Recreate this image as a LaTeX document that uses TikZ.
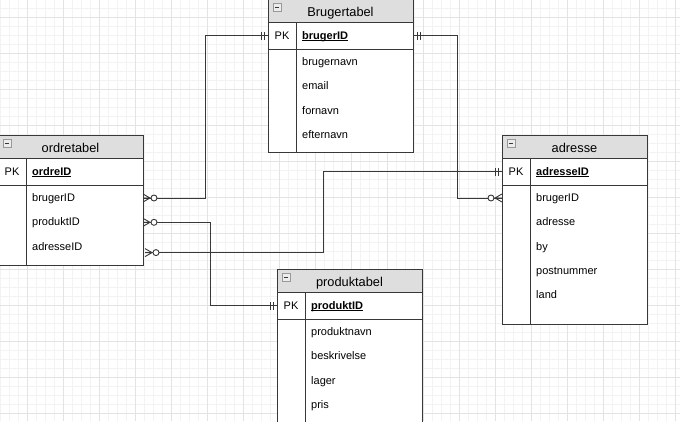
\documentclass[tikz,border=0pt]{standalone}
\usepackage{fontspec}
\setmainfont{Liberation Sans}
\definecolor{gridminor}{HTML}{F3F3F3}
\definecolor{gridmajor}{HTML}{E3E3E3}
\definecolor{headfill}{HTML}{DEDEDE}
\definecolor{edge}{HTML}{383838}
\newcommand{\headfont}{\fontsize{12.8}{14}\selectfont}
\newcommand{\fieldfont}{\fontsize{11}{13}\selectfont}
\newcommand{\keyname}[1]{\underline{\smash{\textbf{#1}}}}
\tikzstyle{tableline}=[draw=edge, line width=0.9pt]
\tikzstyle{tablebox}=[tableline, fill=white, inner sep=0pt, outer sep=0pt, minimum width=145pt, anchor=north west]
\tikzstyle{tablehead}=[tablebox, fill=headfill, minimum height=23pt, font=\headfont, text height=12pt, text depth=0pt]
\tikzstyle{pkrow}=[tablebox, fill=none, minimum height=27pt]
\tikzstyle{field}=[inner sep=0pt, anchor=west, font=\fieldfont, text height=8pt, text depth=1pt]
\tikzstyle{pktext}=[field, anchor=center]
\tikzstyle{relation}=[draw=edge, line width=0.9pt]
\tikzset{
  collapse/.pic={
    \draw[draw=gray!80, fill=gray!15, line width=0.6pt] (0,0) rectangle (8,8);
    \draw[edge, line width=0.8pt] (2,4) -- (6,4);
  },
  mandone/.pic={
    \draw[relation] (4,-4) -- (4,4) (7,-4) -- (7,4);
  },
  zeromany/.pic={
    \draw[relation] (0,-4) -- (7,0) -- (0,4) (0,0) -- (7,0);
    \draw[relation, fill=white] (11,0) circle (3pt);
  }
}

\begin{document}
\begin{tikzpicture}[x=1pt, y=-1pt]
  \useasboundingbox (0,0) rectangle (680,421);
  % background grid
  \foreach \x in {0,9,...,675}
    \draw[gridminor, line width=0.6pt] (\x,0) -- (\x,421);
  \foreach \y in {8,17,...,420}
    \draw[gridminor, line width=0.6pt] (0,\y) -- (680,\y);
  \foreach \x in {27,63,...,675}
    \draw[gridmajor, line width=0.8pt] (\x,0) -- (\x,421);
  \foreach \y in {17,53,...,420}
    \draw[gridmajor, line width=0.8pt] (0,\y) -- (680,\y);

  % Brugertabel
  \node[tablebox, minimum height=153pt] (bruger) at (268,-1) {};
  \node[tablehead] (bruger-head) at (bruger.north west) {Brugertabel};
  \node[pkrow] (bruger-pk) at (bruger-head.south west) {};
  \draw[tableline] ([xshift=28pt]bruger-pk.north west) -- ([xshift=28pt]bruger.south west);
  \pic at ([xshift=5pt,yshift=-4pt]bruger-head.north west) {collapse};
  \node[pktext] (bruger-pklabel) at ([xshift=14pt]bruger-pk.west) {PK};
  \node[field] (bruger-brugerID) at ([xshift=34pt]bruger-pk.west) {\keyname{brugerID}};
  \foreach \f [count=\i from 0] in {brugernavn,email,fornavn,efternavn}
    \node[field] (bruger-\f) at ([xshift=34pt,yshift={-13pt-24.3pt*\i}]bruger-pk.south west) {\f};

  % ordretabel
  \node[tablebox, minimum height=130pt] (ordre) at (-2,135) {};
  \node[tablehead] (ordre-head) at (ordre.north west) {ordretabel};
  \node[pkrow] (ordre-pk) at (ordre-head.south west) {};
  \draw[tableline] ([xshift=28pt]ordre-pk.north west) -- ([xshift=28pt]ordre.south west);
  \pic at ([xshift=5pt,yshift=-4pt]ordre-head.north west) {collapse};
  \node[pktext] (ordre-pklabel) at ([xshift=14pt]ordre-pk.west) {PK};
  \node[field] (ordre-ordreID) at ([xshift=34pt]ordre-pk.west) {\keyname{ordreID}};
  \foreach \f [count=\i from 0] in {brugerID,produktID,adresseID}
    \node[field] (ordre-\f) at ([xshift=34pt,yshift={-13pt-24.3pt*\i}]ordre-pk.south west) {\f};

  % adresse
  \node[tablebox, minimum height=189pt] (adresse) at (502,135) {};
  \node[tablehead] (adresse-head) at (adresse.north west) {adresse};
  \node[pkrow] (adresse-pk) at (adresse-head.south west) {};
  \draw[tableline] ([xshift=28pt]adresse-pk.north west) -- ([xshift=28pt]adresse.south west);
  \pic at ([xshift=5pt,yshift=-4pt]adresse-head.north west) {collapse};
  \node[pktext] (adresse-pklabel) at ([xshift=14pt]adresse-pk.west) {PK};
  \node[field] (adresse-adresseID) at ([xshift=34pt]adresse-pk.west) {\keyname{adresseID}};
  \foreach \f [count=\i from 0] in {brugerID,adresse,by,postnummer,land}
    \node[field] (adresse-\f) at ([xshift=34pt,yshift={-13pt-24.3pt*\i}]adresse-pk.south west) {\f};

  % produktabel
  \node[tablebox, minimum height=170pt] (produkt) at (277,269) {};
  \node[tablehead] (produkt-head) at (produkt.north west) {produktabel};
  \node[pkrow] (produkt-pk) at (produkt-head.south west) {};
  \draw[tableline] ([xshift=28pt]produkt-pk.north west) -- ([xshift=28pt]produkt.south west);
  \pic at ([xshift=5pt,yshift=-4pt]produkt-head.north west) {collapse};
  \node[pktext] (produkt-pklabel) at ([xshift=14pt]produkt-pk.west) {PK};
  \node[field] (produkt-produktID) at ([xshift=34pt]produkt-pk.west) {\keyname{produktID}};
  \foreach \f [count=\i from 0] in {produktnavn,beskrivelse,lager,pris}
    \node[field] (produkt-\f) at ([xshift=34pt,yshift={-13pt-24.3pt*\i}]produkt-pk.south west) {\f};

  % relations
  \coordinate (ordre-bruger) at (ordre.east |- ordre-brugerID);
  \coordinate (ordre-produkt) at (ordre.east |- ordre-produktID);
  \coordinate (ordre-adr) at (ordre.east |- ordre-adresseID);
  \coordinate (adresse-bruger) at (adresse.west |- adresse-brugerID);
  \draw[relation] (bruger-pk.west) -- ++(-63,0) |- (ordre-bruger);
  \draw[relation] (bruger-pk.east) -- ++(44,0) |- (adresse-bruger);
  \draw[relation] (ordre-produkt) -- ++(67,0) |- (produkt-pk.west);
  \draw[relation] ([xshift=2pt,yshift=-6pt]ordre-adr) -- ++(178,0) |- (adresse-pk.west);
  \pic[rotate=180] at (bruger-pk.west) {mandone};
  \pic at (ordre-bruger) {zeromany};
  \pic at (bruger-pk.east) {mandone};
  \pic[rotate=180] at (adresse-bruger) {zeromany};
  \pic at (ordre-produkt) {zeromany};
  \pic[rotate=180] at (produkt-pk.west) {mandone};
  \pic at ([xshift=2pt,yshift=-6pt]ordre-adr) {zeromany};
  \pic[rotate=180] at (adresse-pk.west) {mandone};
\end{tikzpicture}
\end{document}
